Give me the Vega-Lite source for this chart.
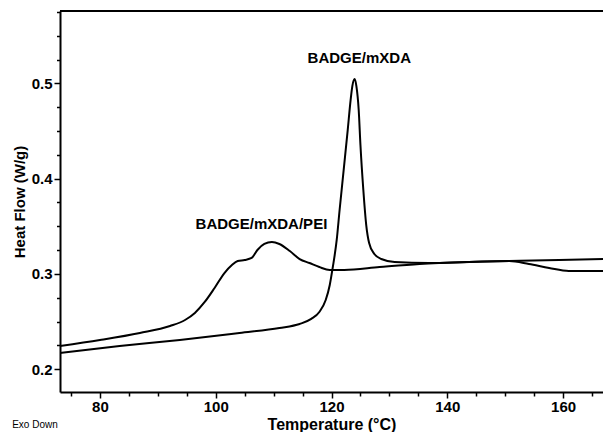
{
  "$schema": "https://vega.github.io/schema/vega-lite/v6.json",
  "autosize": "none",
  "width": 543,
  "height": 381,
  "padding": {"left": 60, "top": 11, "right": 0, "bottom": 40},
  "background": "white",
  "config": {
    "view": {"stroke": null},
    "font": "Liberation Sans",
    "axis": {
      "grid": false,
      "domainColor": "black",
      "domainWidth": 2,
      "tickColor": "black",
      "tickWidth": 1.5,
      "labelColor": "black",
      "labelFont": "Liberation Sans",
      "labelFontWeight": "bold",
      "labelFontSize": 15,
      "labelOverlap": false,
      "labelFlush": false,
      "titleColor": "black",
      "titleFont": "Liberation Sans",
      "titleFontWeight": "bold",
      "titleFontSize": 15
    }
  },
  "title": {
    "text": "Exo Down",
    "orient": "bottom",
    "anchor": "start",
    "frame": "bounds",
    "fontSize": 10,
    "fontWeight": "normal",
    "color": "black",
    "offset": -12
  },
  "resolve": {"axis": {"x": "independent", "y": "independent"}},
  "datasets": {
    "curves": [
      {"series": "BADGE/mXDA/PEI", "T": 73.1, "HF": 0.2243},
      {"series": "BADGE/mXDA/PEI", "T": 80.0, "HF": 0.2306},
      {"series": "BADGE/mXDA/PEI", "T": 86.9, "HF": 0.2380},
      {"series": "BADGE/mXDA/PEI", "T": 92.1, "HF": 0.2453},
      {"series": "BADGE/mXDA/PEI", "T": 94.7, "HF": 0.2516},
      {"series": "BADGE/mXDA/PEI", "T": 96.4, "HF": 0.2590},
      {"series": "BADGE/mXDA/PEI", "T": 98.1, "HF": 0.2705},
      {"series": "BADGE/mXDA/PEI", "T": 99.8, "HF": 0.2852},
      {"series": "BADGE/mXDA/PEI", "T": 101.5, "HF": 0.3009},
      {"series": "BADGE/mXDA/PEI", "T": 102.8, "HF": 0.3093},
      {"series": "BADGE/mXDA/PEI", "T": 103.8, "HF": 0.3135},
      {"series": "BADGE/mXDA/PEI", "T": 105.0, "HF": 0.3146},
      {"series": "BADGE/mXDA/PEI", "T": 106.2, "HF": 0.3167},
      {"series": "BADGE/mXDA/PEI", "T": 107.2, "HF": 0.3251},
      {"series": "BADGE/mXDA/PEI", "T": 108.4, "HF": 0.3314},
      {"series": "BADGE/mXDA/PEI", "T": 109.7, "HF": 0.3335},
      {"series": "BADGE/mXDA/PEI", "T": 111.0, "HF": 0.3314},
      {"series": "BADGE/mXDA/PEI", "T": 112.8, "HF": 0.3240},
      {"series": "BADGE/mXDA/PEI", "T": 114.5, "HF": 0.3156},
      {"series": "BADGE/mXDA/PEI", "T": 116.2, "HF": 0.3114},
      {"series": "BADGE/mXDA/PEI", "T": 117.9, "HF": 0.3072},
      {"series": "BADGE/mXDA/PEI", "T": 119.7, "HF": 0.3041},
      {"series": "BADGE/mXDA/PEI", "T": 122.2, "HF": 0.3041},
      {"series": "BADGE/mXDA/PEI", "T": 128.3, "HF": 0.3072},
      {"series": "BADGE/mXDA/PEI", "T": 135.2, "HF": 0.3104},
      {"series": "BADGE/mXDA/PEI", "T": 143.8, "HF": 0.3125},
      {"series": "BADGE/mXDA/PEI", "T": 150.7, "HF": 0.3135},
      {"series": "BADGE/mXDA/PEI", "T": 159.3, "HF": 0.3146},
      {"series": "BADGE/mXDA/PEI", "T": 166.9, "HF": 0.3156},
      {"series": "BADGE/mXDA", "T": 73.1, "HF": 0.2170},
      {"series": "BADGE/mXDA", "T": 83.4, "HF": 0.2243},
      {"series": "BADGE/mXDA", "T": 93.8, "HF": 0.2306},
      {"series": "BADGE/mXDA", "T": 104.1, "HF": 0.2380},
      {"series": "BADGE/mXDA", "T": 111.0, "HF": 0.2432},
      {"series": "BADGE/mXDA", "T": 114.5, "HF": 0.2474},
      {"series": "BADGE/mXDA", "T": 116.5, "HF": 0.2527},
      {"series": "BADGE/mXDA", "T": 117.9, "HF": 0.2600},
      {"series": "BADGE/mXDA", "T": 119.0, "HF": 0.2726},
      {"series": "BADGE/mXDA", "T": 119.7, "HF": 0.2884},
      {"series": "BADGE/mXDA", "T": 120.2, "HF": 0.3062},
      {"series": "BADGE/mXDA", "T": 120.9, "HF": 0.3356},
      {"series": "BADGE/mXDA", "T": 121.4, "HF": 0.3671},
      {"series": "BADGE/mXDA", "T": 122.1, "HF": 0.4090},
      {"series": "BADGE/mXDA", "T": 122.8, "HF": 0.4510},
      {"series": "BADGE/mXDA", "T": 123.3, "HF": 0.4825},
      {"series": "BADGE/mXDA", "T": 123.6, "HF": 0.4972},
      {"series": "BADGE/mXDA", "T": 124.0, "HF": 0.5045},
      {"series": "BADGE/mXDA", "T": 124.3, "HF": 0.4972},
      {"series": "BADGE/mXDA", "T": 124.7, "HF": 0.4720},
      {"series": "BADGE/mXDA", "T": 125.0, "HF": 0.4353},
      {"series": "BADGE/mXDA", "T": 125.5, "HF": 0.3881},
      {"series": "BADGE/mXDA", "T": 126.0, "HF": 0.3513},
      {"series": "BADGE/mXDA", "T": 126.5, "HF": 0.3324},
      {"series": "BADGE/mXDA", "T": 127.4, "HF": 0.3209},
      {"series": "BADGE/mXDA", "T": 128.6, "HF": 0.3156},
      {"series": "BADGE/mXDA", "T": 130.9, "HF": 0.3125},
      {"series": "BADGE/mXDA", "T": 136.9, "HF": 0.3114},
      {"series": "BADGE/mXDA", "T": 143.8, "HF": 0.3125},
      {"series": "BADGE/mXDA", "T": 150.7, "HF": 0.3135},
      {"series": "BADGE/mXDA", "T": 154.1, "HF": 0.3104},
      {"series": "BADGE/mXDA", "T": 157.6, "HF": 0.3062},
      {"series": "BADGE/mXDA", "T": 161.0, "HF": 0.3030},
      {"series": "BADGE/mXDA", "T": 166.9, "HF": 0.3030}
    ],
    "labels": [
      {"label": "BADGE/mXDA", "T": 124.8, "HF": 0.5265},
      {"label": "BADGE/mXDA/PEI", "T": 107.9, "HF": 0.3524}
    ],
    "frame": [{"HF": 0.576}]
  },
  "layer": [
    {
      "data": {"name": "curves"},
      "mark": {"type": "line", "color": "black", "strokeWidth": 2, "interpolate": "monotone", "clip": true},
      "encoding": {
        "x": {
          "field": "T", "type": "quantitative",
          "scale": {"domain": [73.1, 166.9], "nice": false, "zero": false},
          "axis": {
            "orient": "bottom",
            "title": "Temperature (°C)",
            "titleFontSize": 16,
            "values": [80, 100, 120, 140, 160],
            "format": "d",
            "tickSize": 6,
            "labelPadding": 1,
            "titlePadding": 2
          }
        },
        "y": {
          "field": "HF", "type": "quantitative",
          "scale": {"domain": [0.176, 0.576], "nice": false, "zero": false},
          "axis": {
            "orient": "left",
            "title": "Heat Flow (W/g)",
            "values": [0.2, 0.3, 0.4, 0.5],
            "format": ".1f",
            "tickSize": 6,
            "labelPadding": 2,
            "titlePadding": 4
          }
        },
        "detail": {"field": "series"}
      }
    },
    {
      "data": {"name": "labels"},
      "mark": {"type": "text", "font": "Liberation Sans", "fontWeight": "bold", "fontSize": 15, "color": "black", "align": "center", "baseline": "middle"},
      "encoding": {
        "x": {
          "field": "T", "type": "quantitative",
          "axis": {
            "orient": "bottom",
            "title": null,
            "labels": false,
            "domain": false,
            "values": [75, 85, 90, 95, 105, 110, 115, 125, 130, 135, 145, 150, 155, 165],
            "tickSize": 4
          }
        },
        "y": {
          "field": "HF", "type": "quantitative",
          "axis": {
            "orient": "left",
            "title": null,
            "labels": false,
            "domain": false,
            "values": [0.225, 0.25, 0.275, 0.325, 0.35, 0.375, 0.425, 0.45, 0.475, 0.525, 0.55, 0.575],
            "tickSize": 3.5
          }
        },
        "text": {"field": "label"}
      }
    },
    {
      "data": {"name": "frame"},
      "mark": {"type": "rule", "color": "black", "strokeWidth": 2},
      "encoding": {
        "y": {"field": "HF", "type": "quantitative", "axis": null}
      }
    }
  ]
}
